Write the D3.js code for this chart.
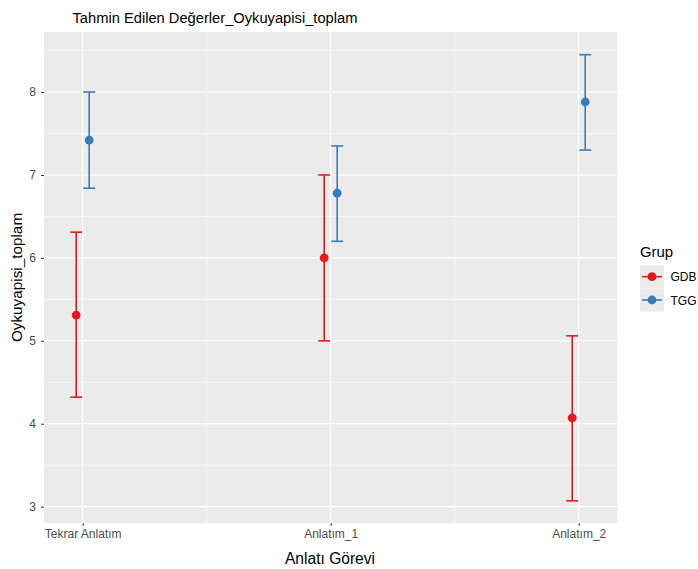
<!DOCTYPE html>
<html><head><meta charset="utf-8">
<script src="https://cdn.jsdelivr.net/npm/d3@7"></script>
<style>body{margin:0;background:#fff;} text{font-family:"Liberation Sans",Arial,sans-serif;}</style>
</head><body>
<svg id="chart" width="698" height="569"></svg>
<script>
const categories = ["Tekrar Anlatım", "Anlatım_1", "Anlatım_2"];
const groups = ["GDB", "TGG"];
const colors = ["#E41A1C", "#377EB8"];
const gdbMean  = [5.31, 6.00, 4.07];
const gdbLower = [4.32, 5.00, 3.07];
const gdbUpper = [6.31, 7.00, 5.06];
const tggMean  = [7.42, 6.78, 7.88];
const tggLower = [6.84, 6.20, 7.30];
const tggUpper = [8.00, 7.35, 8.45];
const yTicks = [3, 4, 5, 6, 7, 8];

const data = [];
categories.forEach((c, i) => {
  data.push({cat: i, grp: 0, mean: gdbMean[i], lo: gdbLower[i], hi: gdbUpper[i]});
  data.push({cat: i, grp: 1, mean: tggMean[i], lo: tggLower[i], hi: tggUpper[i]});
});

const svg = d3.select("#chart");
const P = {l: 44, r: 617.4, t: 32, b: 523};

const x = d3.scaleLinear().domain([-0.156, 2.156]).range([P.l, P.r]);
const y = d3.scaleLinear().domain([2.803, 8.724]).range([P.b, P.t]);
const dodge = 0.0262, capHalf = 0.024;

svg.append("rect").attr("x", P.l).attr("y", P.t).attr("width", P.r - P.l).attr("height", P.b - P.t).attr("fill", "#EBEBEB");

const g = svg.append("g");
// minor grid
d3.range(3.5, 8.6, 1).forEach(v => g.append("line").attr("x1", P.l).attr("x2", P.r).attr("y1", y(v)).attr("y2", y(v)).attr("stroke", "#fff").attr("stroke-width", 0.55));
[0.5, 1.5].forEach(v => g.append("line").attr("y1", P.t).attr("y2", P.b).attr("x1", x(v)).attr("x2", x(v)).attr("stroke", "#fff").attr("stroke-width", 0.55));
// major grid
yTicks.forEach(v => g.append("line").attr("x1", P.l).attr("x2", P.r).attr("y1", y(v)).attr("y2", y(v)).attr("stroke", "#fff").attr("stroke-width", 1.1));
categories.forEach((c, i) => g.append("line").attr("y1", P.t).attr("y2", P.b).attr("x1", x(i)).attr("x2", x(i)).attr("stroke", "#fff").attr("stroke-width", 1.1));

// axes
const yAxis = svg.append("g").attr("transform", `translate(${P.l},0)`)
  .call(d3.axisLeft(y).tickValues(yTicks).tickSize(3).tickPadding(5).tickFormat(d3.format("d")));
const xAxis = svg.append("g").attr("transform", `translate(0,${P.b})`)
  .call(d3.axisBottom(x).tickValues([0, 1, 2]).tickSize(3).tickPadding(3).tickFormat(i => categories[i]));
[yAxis, xAxis].forEach(a => {
  a.select(".domain").remove();
  a.selectAll(".tick line").attr("stroke", "#333").attr("stroke-width", 1);
  a.selectAll(".tick text").attr("fill", "#4D4D4D").style("font-size", "12px").style("font-family", "Liberation Sans, Arial, sans-serif");
});

// error bars and points
const xp = d => x(d.cat + (d.grp === 0 ? -dodge : dodge));
const eb = svg.append("g");
data.forEach(d => {
  const col = colors[d.grp], cx = xp(d);
  eb.append("line").attr("x1", cx).attr("x2", cx).attr("y1", y(d.lo)).attr("y2", y(d.hi)).attr("stroke", col).attr("stroke-width", 1.6);
  [d.lo, d.hi].forEach(v => eb.append("line").attr("x1", cx - (x(capHalf) - x(0))).attr("x2", cx + (x(capHalf) - x(0))).attr("y1", y(v)).attr("y2", y(v)).attr("stroke", col).attr("stroke-width", 1.6));
  eb.append("circle").attr("cx", cx).attr("cy", y(d.mean)).attr("r", 4.4).attr("fill", col);
});

// titles
svg.append("text").attr("x", 72.5).attr("y", 23).attr("fill", "#000").style("font-size", "14.7px").text("Tahmin Edilen Değerler_Oykuyapisi_toplam");
svg.append("text").attr("x", 330).attr("y", 564).attr("text-anchor", "middle").attr("fill", "#000").style("font-size", "15.6px").text("Anlatı Görevi");
svg.append("text").attr("transform", `translate(21.7,277.5) rotate(-90)`).attr("text-anchor", "middle").attr("fill", "#000").style("font-size", "15.3px").text("Oykuyapisi_toplam");

// legend
const lg = svg.append("g");
lg.append("text").attr("x", 640).attr("y", 256.7).style("font-size", "14.9px").attr("fill", "#000").text("Grup");
groups.forEach((gname, i) => {
  const cy = 276.7 + i * 23.3;
  lg.append("rect").attr("x", 640).attr("y", cy - 11.6).attr("width", 24).attr("height", 23.2).attr("fill", "#EBEBEB");
  lg.append("line").attr("x1", 642).attr("x2", 662).attr("y1", cy).attr("y2", cy).attr("stroke", colors[i]).attr("stroke-width", 1.6);
  lg.append("circle").attr("cx", 652).attr("cy", cy).attr("r", 4.4).attr("fill", colors[i]);
  lg.append("text").attr("x", 670.5).attr("y", cy + 4.5).style("font-size", "12px").attr("fill", "#000").text(gname);
});
</script>
</body></html>
